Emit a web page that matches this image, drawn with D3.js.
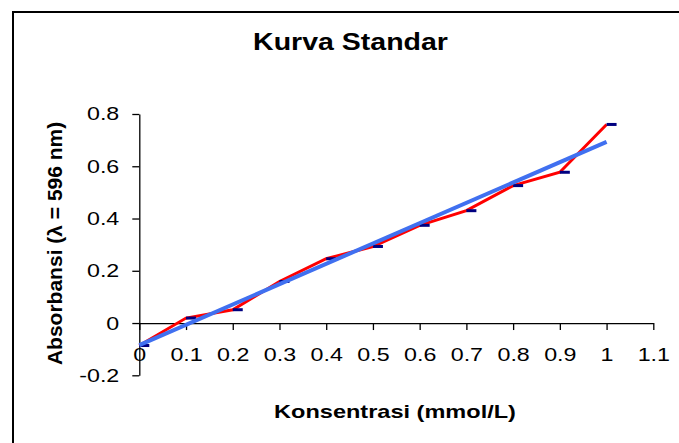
<!DOCTYPE html>
<html>
<head>
<meta charset="utf-8">
<script src="https://cdn.jsdelivr.net/npm/d3@7"></script>
<style>
  body { margin: 0; background: #fff; }
  text { font-family: "Liberation Sans", Arial, sans-serif; fill: #000; }
</style>
</head>
<body>
<script>
// data
var konsentrasi = [0, 0.1, 0.2, 0.3, 0.4, 0.5, 0.6, 0.7, 0.8, 0.9, 1.0];
var absorbansi = [-0.086, 0.019, 0.051, 0.159, 0.246, 0.293, 0.374, 0.430, 0.526, 0.577, 0.760];
var xTicks = [0, 0.1, 0.2, 0.3, 0.4, 0.5, 0.6, 0.7, 0.8, 0.9, 1, 1.1];
var yTicks = [-0.2, 0, 0.2, 0.4, 0.6, 0.8];

var width = 679,
    height = 443;

var svg = d3.select("body").append("svg")
    .attr("width", width)
    .attr("height", height);

// chart frame (runs off the right and bottom edge like the picture)
svg.append("rect")
    .attr("x", 13).attr("y", 12)
    .attr("width", 720).attr("height", 480)
    .attr("fill", "none")
    .attr("stroke", "#000")
    .attr("stroke-width", 2);

var x = d3.scaleLinear().domain([0, 1.1]).range([139.3, 653.3]);
var y = d3.scaleLinear().domain([-0.2, 0.8]).range([375.3, 114]);

// y axis
var gy = svg.append("g")
    .attr("transform", "translate(" + x(0) + ",0)")
    .call(d3.axisLeft(y).tickValues(yTicks).tickSize(7).tickSizeOuter(0)
        .tickFormat(function(d) { return String(d); }));
gy.selectAll("text")
    .attr("x", 0)
    .attr("transform", "translate(-20,0) scale(1.25,1)")
    .style("font-size", "18.6px");

// x axis sits on y = 0
var gx = svg.append("g")
    .attr("transform", "translate(0," + y(0) + ")")
    .call(d3.axisBottom(x).tickValues(xTicks).tickSize(7).tickPadding(18).tickSizeOuter(0)
        .tickFormat(function(d) { return String(d); }));
gx.selectAll("text")
    .attr("transform", "scale(1.25,1)")
    .style("font-size", "18.6px");

svg.selectAll(".domain, .tick line")
    .attr("stroke", "#000")
    .attr("stroke-width", 1.3);
svg.selectAll(".tick text").attr("fill", "#000");

var pts = konsentrasi.map(function(k, i) { return [k, absorbansi[i]]; });

// red series line
svg.append("path")
    .datum(pts)
    .attr("fill", "none")
    .attr("stroke", "#ff0000")
    .attr("stroke-width", 3)
    .attr("d", d3.line().x(function(d) { return x(d[0]); }).y(function(d) { return y(d[1]); }));

// dash markers
svg.selectAll(".marker")
    .data(pts)
    .enter().append("rect")
    .attr("class", "marker")
    .attr("x", function(d) { return x(d[0]); })
    .attr("y", function(d) { return y(d[1]) - 1.5; })
    .attr("width", 10)
    .attr("height", 3)
    .attr("fill", "#000080");

// linear trendline (least squares)
var mx = d3.mean(konsentrasi), my = d3.mean(absorbansi);
var sxy = d3.sum(pts, function(d) { return (d[0] - mx) * (d[1] - my); });
var sxx = d3.sum(pts, function(d) { return (d[0] - mx) * (d[0] - mx); });
var slope = sxy / sxx, intercept = my - slope * mx;
var xr = d3.extent(konsentrasi);

svg.append("line")
    .attr("x1", x(xr[0])).attr("y1", y(intercept + slope * xr[0]))
    .attr("x2", x(xr[1])).attr("y2", y(intercept + slope * xr[1]))
    .attr("stroke", "#4070f0")
    .attr("stroke-width", 4);

// title
svg.append("text")
    .attr("transform", "translate(350.5,50) scale(1.24,1)")
    .attr("text-anchor", "middle")
    .style("font-size", "23px")
    .style("font-weight", "bold")
    .text("Kurva Standar");

// x label
svg.append("text")
    .attr("transform", "translate(395,418.3) scale(1.266,1)")
    .attr("text-anchor", "middle")
    .style("font-size", "18.6px")
    .style("font-weight", "bold")
    .text("Konsentrasi (mmol/L)");

// y label
svg.append("text")
    .attr("transform", "translate(61.7,243.4) rotate(-90)")
    .attr("text-anchor", "middle")
    .style("font-size", "21px")
    .style("font-weight", "bold")
    .text("Absorbansi (λ = 596 nm)");
</script>
</body>
</html>
